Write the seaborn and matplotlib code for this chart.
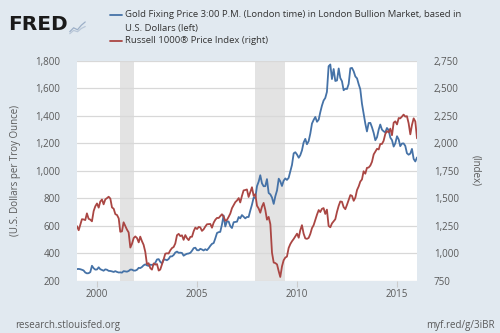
import numpy as np
import pandas as pd
import matplotlib
matplotlib.use("Agg")
import matplotlib.pyplot as plt
import matplotlib.dates as mdates
import seaborn as sns

# Monthly observations, Jan 1999 .. Jan 2016
dates = pd.date_range("1999-01-01", "2016-01-01", freq="MS")

gold = [
    287, 288, 286, 282, 277, 262, 256, 257, 265, 311, 293, 283,        # 1999
    284, 300, 286, 280, 275, 285, 282, 274, 273, 270, 266, 272,        # 2000
    266, 262, 263, 261, 272, 270, 268, 273, 283, 283, 276, 276,        # 2001
    282, 296, 294, 302, 314, 321, 314, 310, 319, 317, 319, 333,        # 2002
    357, 359, 340, 328, 355, 356, 351, 360, 379, 379, 389, 407,        # 2003
    414, 405, 406, 404, 384, 392, 398, 400, 405, 420, 439, 442,        # 2004
    424, 423, 434, 429, 422, 431, 424, 438, 456, 470, 476, 510,        # 2005
    549, 555, 557, 610, 676, 596, 633, 632, 598, 585, 627, 629,        # 2006
    631, 665, 655, 679, 667, 655, 665, 665, 712, 754, 806, 803,        # 2007
    889, 922, 968, 909, 888, 889, 940, 839, 829, 806, 760, 816,        # 2008
    858, 943, 924, 890, 928, 945, 934, 949, 996, 1043, 1127, 1135,     # 2009
    1118, 1095, 1113, 1148, 1205, 1232, 1193, 1215, 1271, 1343, 1370, 1391,  # 2010
    1356, 1372, 1424, 1473, 1510, 1529, 1573, 1759, 1772, 1666, 1739, 1652,  # 2011
    1656, 1743, 1674, 1650, 1585, 1596, 1594, 1630, 1744, 1747, 1722, 1685,  # 2012
    1671, 1627, 1593, 1487, 1414, 1343, 1286, 1347, 1348, 1316, 1275, 1222,  # 2013
    1244, 1300, 1336, 1299, 1287, 1279, 1311, 1296, 1241, 1223, 1176, 1200,  # 2014
    1251, 1227, 1179, 1198, 1199, 1181, 1128, 1117, 1125, 1159, 1086, 1068,  # 2015
    1097,                                                                    # 2016
]

russell = [
    1248, 1211, 1260, 1311, 1309, 1303, 1364, 1315, 1307, 1292, 1385, 1428,  # 1999
    1454, 1416, 1471, 1490, 1446, 1491, 1502, 1515, 1498, 1418, 1406, 1357,  # 2000
    1349, 1318, 1197, 1201, 1283, 1250, 1217, 1191, 1054, 1088, 1140, 1155,  # 2001
    1140, 1101, 1153, 1112, 1079, 1015, 903, 912, 867, 854, 910, 899,        # 2002
    904, 845, 854, 899, 945, 998, 1002, 1000, 1029, 1049, 1059, 1091,        # 2003
    1166, 1178, 1158, 1165, 1124, 1167, 1139, 1121, 1151, 1152, 1203, 1235,  # 2004
    1222, 1241, 1237, 1205, 1219, 1244, 1265, 1267, 1268, 1234, 1280, 1306,  # 2005
    1323, 1322, 1339, 1356, 1335, 1297, 1304, 1332, 1363, 1411, 1438, 1466,  # 2006
    1481, 1503, 1463, 1522, 1572, 1576, 1581, 1513, 1557, 1601, 1522, 1538,  # 2007
    1433, 1408, 1370, 1425, 1459, 1395, 1307, 1332, 1266, 1007, 918, 913,    # 2008
    901, 838, 787, 882, 938, 963, 972, 1050, 1086, 1111, 1132, 1155,        # 2009
    1180, 1143, 1210, 1257, 1181, 1137, 1133, 1141, 1178, 1230, 1258, 1304,  # 2010
    1353, 1394, 1376, 1405, 1412, 1359, 1398, 1250, 1238, 1273, 1293, 1311,  # 2011
    1378, 1433, 1472, 1469, 1421, 1402, 1441, 1487, 1530, 1523, 1478, 1507,  # 2012
    1576, 1610, 1652, 1672, 1746, 1724, 1777, 1780, 1798, 1832, 1899, 1924,  # 2013
    1950, 1944, 1993, 1994, 2022, 2084, 2111, 2099, 2133, 2073, 2187, 2199,  # 2014
    2171, 2229, 2226, 2242, 2260, 2242, 2246, 2182, 2081, 2166, 2226, 2198,  # 2015
    2045,                                                                    # 2016
]

recessions = [("2001-03-01", "2001-11-01"), ("2007-12-01", "2009-06-01")]

left_ticks = [200, 400, 600, 800, 1000, 1200, 1400, 1600, 1800]
right_ticks = [750, 1000, 1250, 1500, 1750, 2000, 2250, 2500, 2750]
year_ticks = [2000, 2005, 2010, 2015]

gold_label = ("Gold Fixing Price 3:00 P.M. (London time) in London Bullion Market, based in\n"
              "U.S. Dollars (left)")
russell_label = "Russell 1000® Price Index (right)"

BG = "#e1e9f0"
BLUE = "#4572a7"
RED = "#aa4643"
GRID = "#d8d8d8"
TXT = "#595959"

sns.set_theme(style="white")
plt.rcParams["font.family"] = ["Open Sans", "DejaVu Sans"]

df = pd.DataFrame({"date": dates, "gold": gold, "russell": russell})

fig = plt.figure(figsize=(5.0, 3.33), dpi=100, facecolor=BG)
ax = fig.add_axes([0.154, 0.156, 0.680, 0.662])
ax.set_facecolor("white")
ax2 = ax.twinx()

for start, end in recessions:
    ax.axvspan(pd.Timestamp(start), pd.Timestamp(end), color="#e3e3e3", lw=0, zorder=0)

for t in left_ticks:
    ax.axhline(t, color=GRID, lw=0.9, zorder=0.5)

sns.lineplot(data=df, x="date", y="gold", ax=ax, color=BLUE, lw=1.3, zorder=3)
sns.lineplot(data=df, x="date", y="russell", ax=ax2, color=RED, lw=1.3, zorder=3)

ax.set_zorder(ax2.get_zorder() - 1)
ax2.patch.set_visible(False)
ax.patch.set_visible(True)

ax.set_xlim(pd.Timestamp("1999-01-01"), pd.Timestamp("2016-01-01"))
ax.set_ylim(200, 1800)
ax2.set_ylim(750, 2750)
ax.set_yticks(left_ticks)
ax.set_yticklabels([f"{v:,}" for v in left_ticks])
ax2.set_yticks(right_ticks)
ax2.set_yticklabels([f"{v:,}" for v in right_ticks])
ax.set_xticks([pd.Timestamp(f"{y}-01-01") for y in year_ticks])
ax.xaxis.set_major_formatter(mdates.DateFormatter("%Y"))

for a in (ax, ax2):
    for s in a.spines.values():
        s.set_visible(False)
    a.set_xlabel("")
    a.set_ylabel("")

ax.tick_params(axis="y", length=0, labelsize=7, labelcolor=TXT, pad=12)
ax2.tick_params(axis="y", length=0, labelsize=7, labelcolor=TXT, pad=12)
ax.tick_params(axis="x", length=4, width=0.8, color="#cccccc", labelsize=7,
               labelcolor=TXT, pad=1.5, direction="out", bottom=True)

fig.text(0.032, 0.487, "(U.S. Dollars per Troy Ounce)", rotation=90, ha="center",
         va="center", fontsize=7, color=TXT)
fig.text(0.952, 0.487, "(Index)", rotation=270, ha="center", va="center",
         fontsize=7, color=TXT)

# FRED header
fig.text(0.016, 0.955, "FRED", fontsize=14.5, fontweight="heavy", color="#1a1a1a",
         ha="left", va="top", family=["DejaVu Sans"])
icon = fig.add_axes([0.138, 0.893, 0.034, 0.045])
icon.set_facecolor("#d5dde6")
icon.plot([0, 1, 2, 3, 4], [0.2, 0.5, 0.35, 0.7, 0.95], color="#9db0c8", lw=0.9)
icon.plot([0, 1, 2, 3, 4], [0.05, 0.3, 0.2, 0.45, 0.6], color="#b9c7d8", lw=0.9)
icon.set_xlim(-0.2, 4.2)
icon.set_ylim(-0.1, 1.05)
icon.axis("off")

# legend
fig.add_artist(plt.Line2D([0.219, 0.244], [0.955, 0.955], color=BLUE, lw=1.3,
                          transform=fig.transFigure))
fig.text(0.25, 0.935, gold_label, fontsize=6.8, color="#333333", ha="left", va="center",
         linespacing=1.75)
fig.add_artist(plt.Line2D([0.219, 0.244], [0.876, 0.876], color=RED, lw=1.3,
                          transform=fig.transFigure))
fig.text(0.25, 0.877, russell_label, fontsize=6.8, color="#333333", ha="left",
         va="center")

fig.text(0.03, 0.006, "research.stlouisfed.org", fontsize=7, color=TXT, ha="left",
         va="bottom")
fig.text(0.99, 0.006, "myf.red/g/3iBR", fontsize=7, color=TXT, ha="right",
         va="bottom")

fig.savefig("out.png", dpi=100, facecolor=BG)
